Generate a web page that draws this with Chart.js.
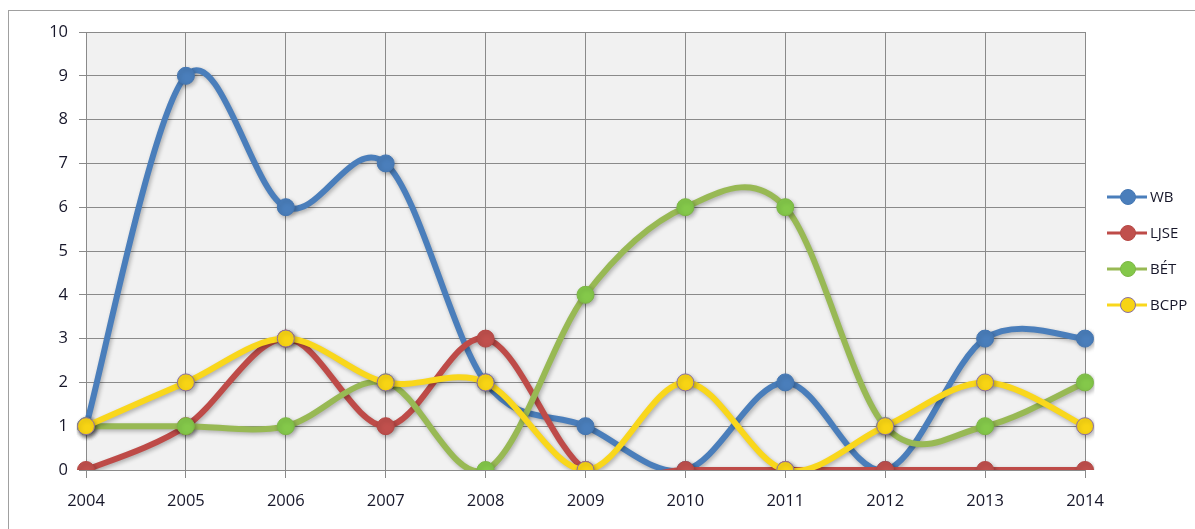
<!DOCTYPE html>
<html>
<head>
<meta charset="utf-8">
<script src="https://cdn.jsdelivr.net/npm/chart.js@4/dist/chart.umd.min.js"></script>
<style>
  html, body { margin: 0; padding: 0; background: #ffffff; }
  #wrap { width: 1195px; height: 529px; }
</style>
</head>
<body>
<div id="wrap"><canvas id="c" width="1195" height="529"></canvas></div>
<script>
// Years on the horizontal axis
const years = ['2004', '2005', '2006', '2007', '2008', '2009', '2010', '2011', '2012', '2013', '2014'];

// Yearly counts per exchange
const wbValues   = [1, 9, 6, 7, 2, 1, 0, 2, 0, 3, 3];
const ljseValues = [0, 1, 3, 1, 3, 0, 0, 0, 0, 0, 0];
const betValues  = [1, 1, 1, 2, 0, 4, 6, 6, 1, 1, 2];
const bcppValues = [1, 2, 3, 2, 2, 0, 2, 0, 1, 2, 1];

const seriesNames = ['WB', 'LJSE', 'BÉT', 'BCPP'];
const yTickValues = [0, 1, 2, 3, 4, 5, 6, 7, 8, 9, 10];

const FONT = "'Open Sans', 'Liberation Sans', sans-serif";
const TEXT = '#17172a';
const GRID = '#8a8a8a';

function series(label, data, line, fill, border, order) {
  return {
    label, data, order,
    borderColor: line,
    borderWidth: 6,
    pointRadius: 8.5,
    pointHoverRadius: 8.5,
    pointBackgroundColor: fill,
    pointBorderColor: border,
    pointBorderWidth: 1,
    tension: 0.5,
    fill: false
  };
}

// Later series sit on top of earlier ones
const datasets = [
  series(seriesNames[0], wbValues,   '#4a7ebb', '#4a7ebb', '#4577b3', 4),
  series(seriesNames[1], ljseValues, '#be4b48', '#c0504d', '#b64845', 3),
  series(seriesNames[2], betValues,  '#98b954', '#84c84a', '#7db746', 2),
  series(seriesNames[3], bcppValues, '#f9d71c', '#f7d414', '#8a6fa3', 1)
];

// Spreadsheet-style smoothing: Catmull-Rom tangents (1/6) with the
// control-point reach capped at half of the segment length.
function smoothLine(points) {
  const n = points.length;
  const d = (a, b) => Math.hypot(b.x - a.x, b.y - a.y);
  for (let i = 0; i < n - 1; i++) {
    const p1 = points[i], p2 = points[i + 1];
    const p0 = i > 0 ? points[i - 1] : p1;
    const p3 = i + 2 < n ? points[i + 2] : p2;
    const d12 = d(p1, p2), d02 = d(p0, p2), d13 = d(p1, p3);
    let f0 = 1 / 6, f1 = 1 / 6;
    if (d02 / 6 >= d12 / 2 && d02 > 0) f0 = d12 / 2 / d02;
    if (d13 / 6 >= d12 / 2 && d13 > 0) f1 = d12 / 2 / d13;
    p1.cp2x = p1.x + (p2.x - p0.x) * f0;
    p1.cp2y = p1.y + (p2.y - p0.y) * f0;
    p2.cp1x = p2.x - (p3.x - p1.x) * f1;
    p2.cp1y = p2.y - (p3.y - p1.y) * f1;
  }
  const first = points[0], last = points[n - 1];
  first.cp1x = first.x; first.cp1y = first.y;
  last.cp2x = last.x; last.cp2y = last.y;
}

const smoothing = {
  id: 'smoothing',
  beforeDatasetDraw(chart, args) {
    const line = args.meta.dataset;
    if (!line) return;
    smoothLine(args.meta.data);
    line._pointsUpdated = true;
    line._path = undefined;
  }
};

// Frame, plot-area fill and soft shadows under the series
const backdrop = {
  id: 'backdrop',
  beforeDraw(chart) {
    const { ctx, chartArea: a } = chart;
    ctx.save();
    ctx.fillStyle = '#ffffff';
    ctx.fillRect(0, 0, chart.width, chart.height);
    ctx.strokeStyle = '#a0a0a0';
    ctx.lineWidth = 1;
    ctx.strokeRect(8.5, 10.5, chart.width, chart.height);
    ctx.fillStyle = '#f1f1f1';
    ctx.fillRect(a.left, a.top, a.right - a.left, a.bottom - a.top);
    ctx.restore();
  },
  beforeDatasetsDraw(chart) {
    const ctx = chart.ctx;
    ctx.save();
    ctx.shadowColor = 'rgba(0,0,0,0.28)';
    ctx.shadowBlur = 4;
    ctx.shadowOffsetX = 1.5;
    ctx.shadowOffsetY = 2;
  },
  afterDatasetsDraw(chart) {
    chart.ctx.restore();
  }
};

// Right-hand legend: line sample with a marker, then the series name
const sideLegend = {
  id: 'sideLegend',
  afterDraw(chart) {
    const ctx = chart.ctx;
    const x0 = 1107, x1 = 1147, mx = 1128, tx = 1150;
    const y0 = 197, step = 36;
    ctx.save();
    chart.data.datasets.forEach((ds, i) => {
      const y = y0 + i * step;
      ctx.strokeStyle = ds.borderColor;
      ctx.lineWidth = 3;
      ctx.beginPath();
      ctx.moveTo(x0, y);
      ctx.lineTo(x1, y);
      ctx.stroke();
      ctx.beginPath();
      ctx.arc(mx, y, 7.5, 0, Math.PI * 2);
      ctx.fillStyle = ds.pointBackgroundColor;
      ctx.fill();
      ctx.lineWidth = 1;
      ctx.strokeStyle = ds.pointBorderColor;
      ctx.stroke();
      ctx.fillStyle = TEXT;
      ctx.font = '15px ' + FONT;
      ctx.textBaseline = 'middle';
      ctx.textAlign = 'left';
      ctx.fillText(ds.label, tx, y + 1);
    });
    ctx.restore();
  }
};

new Chart(document.getElementById('c'), {
  type: 'line',
  data: { labels: years, datasets },
  options: {
    responsive: false,
    animation: false,
    events: [],
    layout: { padding: { left: 8, top: 32, right: 110, bottom: 0 } },
    plugins: {
      legend: { display: false },
      tooltip: { enabled: false }
    },
    scales: {
      x: {
        type: 'category',
        offset: false,
        grid: { color: GRID, lineWidth: 1, tickLength: 8, offset: false },
        border: { color: GRID, width: 1 },
        ticks: {
          color: TEXT,
          font: { family: FONT, size: 16.5 },
          padding: 13,
          autoSkip: false,
          maxRotation: 0
        },
        afterFit(scale) { scale.height = 59; }
      },
      y: {
        min: 0,
        max: 10,
        afterBuildTicks(scale) { scale.ticks = yTickValues.map(v => ({ value: v })); },
        grid: { color: GRID, lineWidth: 1, tickLength: 7 },
        border: { color: GRID, width: 1 },
        ticks: {
          color: TEXT,
          font: { family: FONT, size: 16.5 },
          padding: 11
        },
        afterFit(scale) { scale.width = 78; }
      }
    }
  },
  plugins: [backdrop, smoothing, sideLegend]
});
</script>
</body>
</html>
